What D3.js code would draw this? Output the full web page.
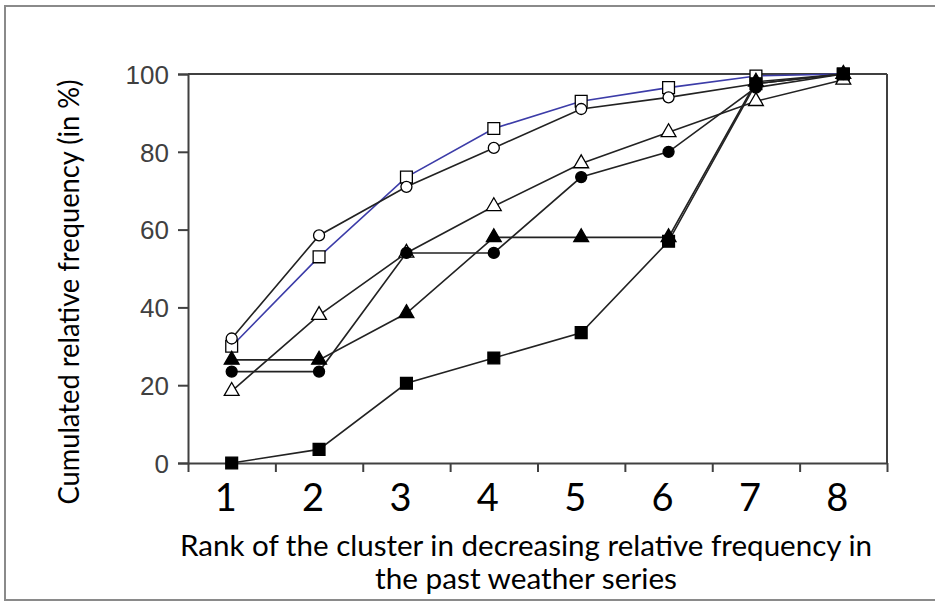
<!DOCTYPE html>
<html lang="en">
  <head>
    <meta charset="utf-8">
    <title>Cumulated relative frequency by cluster rank</title>
    <script src="https://d3js.org/d3.v7.min.js"></script>
    <style type="text/css">
      body { margin: 0; background: #fff; }
      svg { width: 935px; height: 604px; display: block; }
      .ytick text { font-family: "Liberation Sans", Arial, sans-serif; font-size: 26px; fill: #404040; }
      .xlab { font-family: Lato, "Open Sans", sans-serif; font-size: 38px; fill: #000; }
      .title { font-family: Lato, "Open Sans", sans-serif; font-size: 28px; fill: #000; }
    </style>
  </head>
  <body>
    <svg></svg>
    <script type="text/javascript">

    // ranks on the x axis
    const ranks = [1, 2, 3, 4, 5, 6, 7, 8];
    const yTicks = [0, 20, 40, 60, 80, 100];

    // cumulated relative frequency (%) per series
    const openSquare     = [30, 53, 73.5, 86, 93, 96.5, 99.5, 100];
    const openCircle     = [32, 58.5, 71, 81, 91, 94, 97.5, 100];
    const openTriangle   = [18.5, 38, 54, 66, 77, 85, 93, 98.5];
    const filledCircle   = [23.5, 23.5, 54, 54, 73.5, 80, 96.5, 100];
    const filledTriangle = [26.5, 26.5, 38.5, 58, 58, 58, 98, 100];
    const filledSquare   = [0, 3.5, 20.5, 27, 33.5, 57, 97.5, 100];

    const svg = d3.select("svg");

    // outer frame of the figure
    svg.append("rect")
       .attr("x", 5).attr("y", 6)
       .attr("width", 940).attr("height", 594)
       .attr("fill", "none")
       .attr("stroke", "#8a8a8a")
       .attr("stroke-width", 2);

    const plotLeft = 188, plotRight = 887, plotTop = 74, plotBottom = 463;

    const x = d3.scaleLinear().domain([0.5, 8.5]).range([plotLeft, plotRight]);
    const y = d3.scaleLinear().domain([0, 100]).range([plotBottom, plotTop]);

    // y axis
    const yAxis = svg.append("g")
       .attr("class", "ytick")
       .attr("transform", "translate(" + plotLeft + ",0)")
       .call(d3.axisLeft(y).tickValues(yTicks).tickSize(10).tickPadding(9));
    yAxis.select(".domain").attr("stroke", "#404040").attr("stroke-width", 2);
    yAxis.selectAll(".tick line").attr("stroke", "#404040").attr("stroke-width", 2);
    yAxis.selectAll("text").attr("dy", "0.36em");

    // x axis: tick marks on the band borders
    const xAxis = svg.append("g")
       .attr("transform", "translate(0," + plotBottom + ")")
       .call(d3.axisBottom(x).tickValues(d3.range(0.5, 9, 1)).tickSize(9).tickSizeOuter(0).tickFormat(""));
    xAxis.select(".domain").attr("stroke", "#404040").attr("stroke-width", 2);
    xAxis.selectAll(".tick line").attr("stroke", "#404040").attr("stroke-width", 2);

    // x labels in the middle of each band
    svg.selectAll(".xlab")
       .data(ranks)
       .enter()
       .append("text")
       .attr("class", "xlab")
       .attr("x", d => x(d) - 6)
       .attr("y", 511)
       .attr("text-anchor", "middle")
       .text(d => d);

    // top and right border of the plot
    svg.append("line")
       .attr("x1", plotLeft).attr("x2", plotRight)
       .attr("y1", y(100)).attr("y2", y(100))
       .attr("stroke", "#404040").attr("stroke-width", 2);
    svg.append("line")
       .attr("x1", plotRight).attr("x2", plotRight)
       .attr("y1", y(100)).attr("y2", plotBottom)
       .attr("stroke", "#404040").attr("stroke-width", 2);

    // open series first, filled series drawn on top
    const series = [
      { values: openSquare,     symbol: d3.symbolSquare,   size: 140, fill: "#fff", line: "#3c3ca8" },
      { values: openCircle,     symbol: d3.symbolCircle,   size: 95,  fill: "#fff", line: "#222" },
      { values: openTriangle,   symbol: d3.symbolTriangle, size: 95,  fill: "#fff", line: "#222" },
      { values: filledCircle,   symbol: d3.symbolCircle,   size: 95,  fill: "#000", line: "#222" },
      { values: filledTriangle, symbol: d3.symbolTriangle, size: 95,  fill: "#000", line: "#222" },
      { values: filledSquare,   symbol: d3.symbolSquare,   size: 140, fill: "#000", line: "#222" }
    ];

    const lineGen = d3.line()
       .x((d, i) => x(ranks[i]))
       .y(d => y(d));

    series.forEach(s => {
      svg.append("path")
         .attr("d", lineGen(s.values))
         .attr("fill", "none")
         .attr("stroke", s.line)
         .attr("stroke-width", 1.6);
    });

    series.forEach(s => {
      svg.append("g")
         .selectAll("path")
         .data(s.values)
         .enter()
         .append("path")
         .attr("transform", (d, i) => "translate(" + x(ranks[i]) + "," + y(d) + ")")
         .attr("d", d3.symbol().type(s.symbol).size(s.size))
         .attr("fill", s.fill)
         .attr("stroke", "#000")
         .attr("stroke-width", 1.3);
    });

    // axis titles
    svg.append("text")
       .attr("class", "title")
       .attr("transform", "translate(79,292) rotate(-90)")
       .attr("text-anchor", "middle")
       .attr("textLength", 425)
       .attr("lengthAdjust", "spacingAndGlyphs")
       .text("Cumulated relative frequency (in %)");

    svg.append("text")
       .attr("class", "title")
       .attr("x", 526).attr("y", 556)
       .attr("text-anchor", "middle")
       .attr("textLength", 692)
       .attr("lengthAdjust", "spacingAndGlyphs")
       .text("Rank of the cluster in decreasing relative frequency in");

    svg.append("text")
       .attr("class", "title")
       .attr("x", 526).attr("y", 589)
       .attr("text-anchor", "middle")
       .attr("textLength", 302)
       .attr("lengthAdjust", "spacingAndGlyphs")
       .text("the past weather series");

    </script>
  </body>
</html>
